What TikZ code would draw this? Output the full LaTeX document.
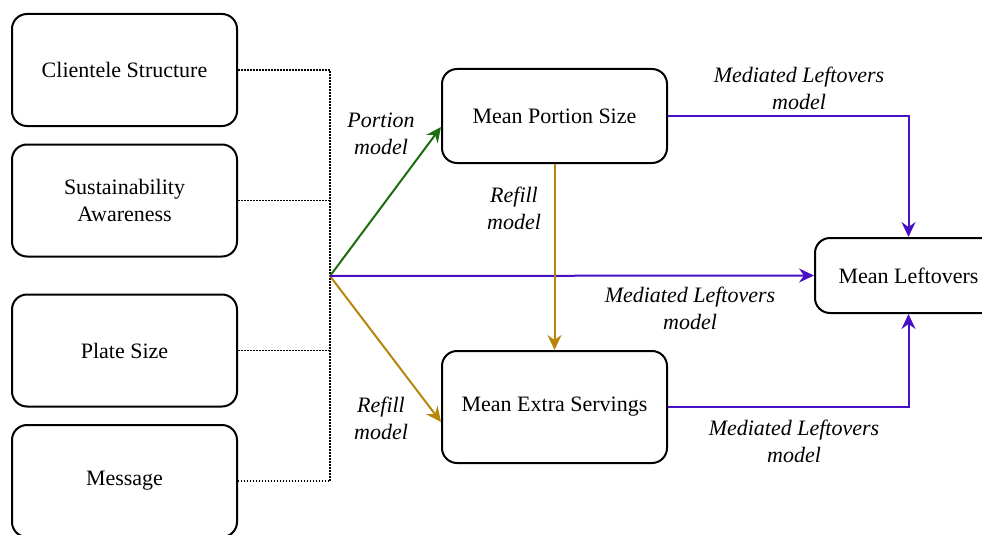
\documentclass[tikz,border=0pt]{standalone}
\usepackage{fontspec}
\setmainfont{Liberation Serif}
\usetikzlibrary{arrows.meta,calc}
\definecolor{cgreen}{RGB}{30,110,15}
\definecolor{cblue}{RGB}{72,16,196}
\definecolor{cgold}{RGB}{184,134,11}
\begin{document}
\begin{tikzpicture}[x=1pt,y=-1pt,
  box/.style={draw=black,line width=2pt,rounded corners=15pt,align=center,
    font=\fontsize{22}{27}\selectfont,inner sep=0pt},
  lbl/.style={align=center,font=\fontsize{22}{27}\selectfont\itshape,inner sep=0pt},
  bus/.style={black,line width=1.5pt,dash pattern=on 1.5pt off 1.5pt},
  conn/.style={line width=2pt,-{Stealth[length=15pt,width=14pt,inset=5pt]}}
]
\clip (0,0) rectangle (982,535);
\fill[white] (0,0) rectangle (982,535);
% left boxes
\node[box,minimum width=225pt,minimum height=112pt] (cs) at (124.5,70) {Clientele Structure};
\node[box,minimum width=225pt,minimum height=112pt] (sa) at (124.5,200.5) {Sustainability\\Awareness};
\node[box,minimum width=225pt,minimum height=112pt] (ps) at (124.5,350.5) {Plate Size};
\node[box,minimum width=225pt,minimum height=112pt] (msg) at (124.5,481) {Message};
% middle and right boxes
\node[box,minimum width=225pt,minimum height=94pt] (mps) at (554.5,116) {Mean Portion Size};
\node[box,minimum width=225pt,minimum height=112pt] (mes) at (554.5,407) {Mean Extra Servings};
\node[box,minimum width=187pt,minimum height=75pt] (ml) at (908.5,275.5) {Mean Leftovers};
% junction
\coordinate (j) at (330,276);
% dotted bus
\draw[bus] (cs.east) -- (cs.east -| j) -- (msg.east -| j) -- (msg.east);
\draw[bus] (sa.east) -- (sa.east -| j);
\draw[bus] (ps.east) -- (ps.east -| j);
% connectors
\draw[conn,cgreen] (j) -- ([yshift=-11pt]mps.west);
\draw[conn,cgold] (j) -- ([yshift=-15pt]mes.west);
\draw[conn,cblue] (j) -- (ml.west);
\draw[conn,cgold] (mps.south) -- (mes.north);
\draw[conn,cblue] (mps.east) -| (ml.north);
\draw[conn,cblue] (mes.east) -| (ml.south);
% labels
\node[lbl] (l1) at (381,134) {Portion\\model};
\node[lbl] (l2) at (381,418) {Refill\\model};
\node[lbl] (l3) at (514,208) {Refill\\model};
\node[lbl] (l4) at (799,88) {Mediated Leftovers\\model};
\node[lbl] (l5) at (690,308) {Mediated Leftovers\\model};
\node[lbl] (l6) at (794,441) {Mediated Leftovers\\model};
\end{tikzpicture}
\end{document}
